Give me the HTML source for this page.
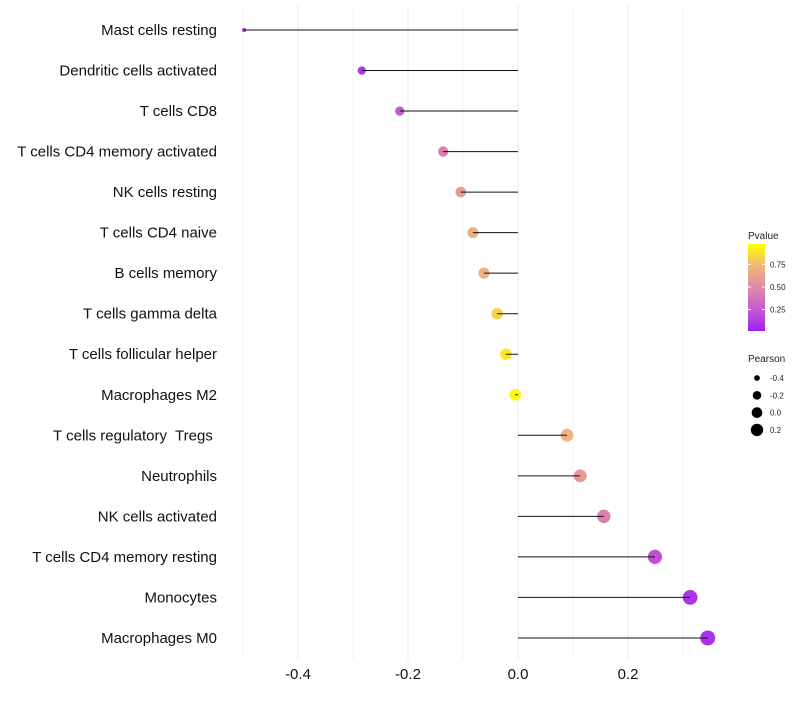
<!DOCTYPE html>
<html><head><meta charset="utf-8"><style>
body{margin:0;background:#fff;font-family:"Liberation Sans",sans-serif}
svg text{font-family:"Liberation Sans",sans-serif;white-space:pre}
</style></head><body>
<svg id="chart" width="800" height="700"></svg>
<script>
const categories=["Mast cells resting","Dendritic cells activated","T cells CD8","T cells CD4 memory activated","NK cells resting","T cells CD4 naive","B cells memory","T cells gamma delta","T cells follicular helper","Macrophages M2","T cells regulatory  Tregs ","Neutrophils","NK cells activated","T cells CD4 memory resting","Monocytes","Macrophages M0"];
const pearson=[-0.498,-0.284,-0.215,-0.136,-0.104,-0.082,-0.062,-0.038,-0.022,-0.005,0.089,0.113,0.156,0.249,0.313,0.345];
const pvalues=[0.01,0.1,0.25,0.45,0.6,0.7,0.72,0.85,0.92,0.98,0.72,0.6,0.45,0.2,0.08,0.07];
const xTicks=[-0.4,-0.2,0.0,0.2];
const xTickLabels=["-0.4","-0.2","0.0","0.2"];
const xMinor=[-0.5,-0.3,-0.1,0.1,0.3];
const legendP=[0.25,0.5,0.75];
const legendSizes=[-0.4,-0.2,0.0,0.2];

const NS="http://www.w3.org/2000/svg";
const svg=document.getElementById("chart");
function el(t,a,p){const e=document.createElementNS(NS,t);for(const k in a)e.setAttribute(k,a[k]);(p||svg).appendChild(e);return e;}
const x=v=>518+v*550;
const y=i=>30+i*40.53;
const r=v=>Math.sqrt(Math.max(1,35+62*v));
const stops=[[0,[160,32,240]],[0.25,[196,92,208]],[0.5,[221,138,168]],[0.75,[240,184,120]],[1,[255,255,0]]];
function col(p){for(let i=1;i<stops.length;i++){if(p<=stops[i][0]){const a=stops[i-1],b=stops[i];const t=(p-a[0])/(b[0]-a[0]);const c=a[1].map((v,j)=>Math.round(v+(b[1][j]-v)*t));return `rgb(${c})`;}}return "rgb(255,255,0)";}

xMinor.concat(xTicks).forEach(v=>{
  const g=el("line",{x1:x(v),x2:x(v),y1:5,y2:660,stroke:xTicks.includes(v)?"#ebebeb":"#f3f3f3","stroke-width":1});
  
  
});
xTicks.forEach((v,i)=>{
  const t=el("text",{x:x(v),y:679,"text-anchor":"middle","font-size":15,fill:"#111"});t.textContent=xTickLabels[i];
  
  
});
categories.forEach((c,i)=>{
  const t=el("text",{x:217,y:y(i)+5,"text-anchor":"end","font-size":15,fill:"#111"});t.textContent=c;
  
  
  const pt=el("circle",{cx:x(pearson[i]),cy:y(i),r:r(pearson[i]),fill:col(pvalues[i])});
  
  
  const ln=el("line",{x1:x(0),x2:x(pearson[i]),y1:y(i),y2:y(i),stroke:"#111","stroke-width":1});
  
  
});
let t=el("text",{x:748,y:239,"font-size":10,fill:"#222"});t.textContent="Pvalue";


const defs=el("defs",{});
const lg=el("linearGradient",{id:"pg",x1:0,y1:1,x2:0,y2:0},defs);
stops.forEach(s=>el("stop",{offset:s[0],"stop-color":`rgb(${s[1]})`},lg));
const lb=el("rect",{x:748,y:244,width:17,height:87,fill:"url(#pg)"});


const ly=p=>332-p*90;
legendP.forEach(p=>{
  el("line",{x1:748,x2:751,y1:ly(p),y2:ly(p),stroke:"#fff"});
  el("line",{x1:762,x2:765,y1:ly(p),y2:ly(p),stroke:"#fff"});
  const tt=el("text",{x:770,y:ly(p)+3,"font-size":8,fill:"#222"});tt.textContent=p.toFixed(2);
  
  
});
t=el("text",{x:748,y:362,"font-size":10,fill:"#222"});t.textContent="Pearson";


legendSizes.forEach((s,i)=>{
  const cy=378+i*17.3;
  const c=el("circle",{cx:757,cy:cy,r:r(s)*0.9,fill:"#000"});
  
  
  const tt=el("text",{x:770,y:cy+3,"font-size":8,fill:"#222"});tt.textContent=s.toFixed(1);
  
  
});
</script>
</body></html>
